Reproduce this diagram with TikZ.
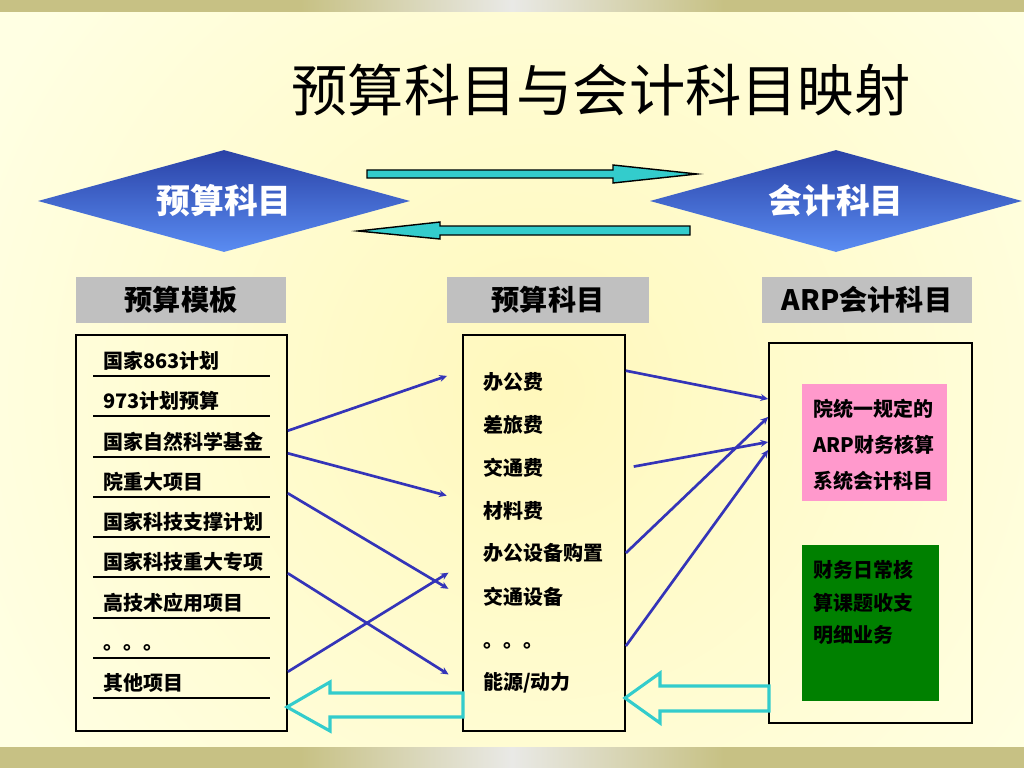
\documentclass[tikz,border=0pt]{standalone}
\usepackage{fontspec}
\setmainfont{Noto Sans CJK SC}
\usetikzlibrary{positioning, arrows.meta, shapes.geometric, fit, calc}
\definecolor{bgpale}{HTML}{FFFFE3}
\definecolor{bgglow}{HTML}{FFF8BC}
\definecolor{barolive}{HTML}{C7C184}
\definecolor{barlight}{HTML}{E9E9E6}
\definecolor{diamtop}{HTML}{2A42A6}
\definecolor{diambot}{HTML}{5A8CF2}
\definecolor{linkblue}{HTML}{3434B8}
\definecolor{flowcyan}{HTML}{33CCCC}
\definecolor{headgray}{HTML}{C0C0C0}
\definecolor{acctpink}{HTML}{FF99CC}
\definecolor{acctgreen}{HTML}{008000}

\begin{document}
\begin{tikzpicture}[
      x=0.025cm, y=-0.025cm,
      every node/.style={inner sep=0pt},
      subj/.style={diamond, aspect=3.65, minimum width=9.3cm, minimum height=2.55cm,
        top color=diamtop, bottom color=diambot, text=white,
        font=\fontsize{24}{24}\selectfont\bfseries},
      headbox/.style={fill=headgray, minimum height=1.125cm,
        font=\fontsize{20}{20}\selectfont\bfseries},
      frame/.style={draw, line width=1.2pt},
      item/.style={anchor=west, minimum height=0.55cm,
        font=\fontsize{14.2}{14.2}\selectfont\bfseries},
      link/.style={draw=linkblue, line width=1.9pt, -{Stealth[length=5.5pt, width=5pt]}},
      flow/.style={draw=black, line width=1pt, fill=flowcyan},
      hollow/.style={draw=flowcyan, line width=2.2pt, line join=miter},
    ]
    \useasboundingbox (0,0) rectangle (1024,768);

    % background and bars
    \fill[bgpale] (0,0) rectangle (1024,768);
    \begin{scope}
      \clip (0,12) rectangle (1024,747);
      \shade[inner color=bgglow, outer color=bgpale] (540,390) circle (620);
    \end{scope}
    \fill[barolive] (0,0) rectangle (1024,12);
    \shade[left color=barolive, right color=barlight] (300,0) rectangle (512,12);
    \shade[left color=barlight, right color=barolive] (512,0) rectangle (724,12);
    \fill[barolive] (0,747) rectangle (1024,768);
    \shade[left color=barolive, right color=barlight] (300,747) rectangle (512,768);
    \shade[left color=barlight, right color=barolive] (512,747) rectangle (724,768);

    \node[font=\fontsize{40}{40}\selectfont] (title) at (601,90) {预算科目与会计科目映射};

    \node[subj] (bsubj) at (224,201) {预算科目};
    \node[subj] (asubj) at (836,201) {会计科目};

    \draw[flow] (367,170) -- (613,170) -- (613,165) -- (697,174) -- (613,183)
      -- (613,178) -- (367,178) -- cycle;
    \draw[flow] (690,226) -- (440,226) -- (440,222) -- (358,231) -- (440,239)
      -- (440,235) -- (690,235) -- cycle;

    \node[headbox, minimum width=5.25cm] (hl) at (181,300) {预算模板};
    \node[headbox, minimum width=5.05cm] (hm) at (548,300) {预算科目};
    \node[headbox, minimum width=5.25cm] (hr) at (867,300) {ARP会计科目};

    \node[frame, fit={(76,335) (287,731)}] (lbox) {};
    \node[frame, fit={(463,335) (625,731)}] (mbox) {};
    \node[frame, fit={(769,343) (972,723)}] (rbox) {};

    % budget templates
    \node[item] (l1) at (103,361) {国家863计划};
    \node[item] (l2) at (103,401) {973计划预算};
    \node[item] (l3) at (103,442) {国家自然科学基金};
    \node[item] (l4) at (103,482) {院重大项目};
    \node[item] (l5) at (103,522) {国家科技支撑计划};
    \node[item] (l6) at (103,562) {国家科技重大专项};
    \node[item] (l7) at (103,603) {高技术应用项目};
    \node[item] (l8) at (103,648) {。。。};
    \node[item] (l9) at (103,683) {其他项目};
    \foreach \y in {376,416,457,497,537,577,618,658,698}
      \draw[line width=1.3pt] (93,\y) -- (270,\y);

    % budget subjects
    \node[item] (m1) at (483,382) {办公费};
    \node[item] (m2) at (483,425) {差旅费};
    \node[item] (m3) at (483,468) {交通费};
    \node[item] (m4) at (483,511) {材料费};
    \node[item] (m5) at (483,553) {办公设备购置};
    \node[item] (m6) at (483,597) {交通设备};
    \node[item] (m7) at (483,646) {。。。};
    \node[item] (m8) at (483,683) {能源/动力};

    % ARP subjects
    \node[fill=acctpink, fit={(802,384) (947,501)}] (pink) {};
    \node[item] (p1) at (813,409) {院统一规定的};
    \node[item] (p2) at (813,445) {ARP财务核算};
    \node[item] (p3) at (813,481) {系统会计科目};
    \node[fill=acctgreen, fit={(802,545) (939,701)}] (green) {};
    \node[item] (g1) at (813,570) {财务日常核};
    \node[item] (g2) at (813,603) {算课题收支};
    \node[item] (g3) at (813,635) {明细业务};

    \coordinate (r1) at (rbox.west |- 0,399);
    \coordinate (r2) at (rbox.west |- 0,417);
    \coordinate (r3) at (rbox.west |- 0,442);
    \coordinate (r4) at (rbox.west |- 0,450);

    \draw[link, shorten >=0.4cm] (lbox.east |- l3.north) -- (mbox.west |- m1.north);
    \draw[link, shorten >=0.4cm] (lbox.east |- l3.south) -- (mbox.west |- m4.north);
    \draw[link, shorten >=0.4cm] (lbox.east |- l4.south) -- (mbox.west |- m6);
    \draw[link, shorten >=0.4cm] (lbox.east |- l6.south) -- (mbox.west |- m8);
    \draw[link, shorten >=0.4cm] (lbox.east |- l9.north) -- (mbox.west |- m5.south);

    \draw[link] (mbox.east |- m1.north) -- (r1);
    \draw[link, shorten <=0.2cm] (mbox.east |- m3) -- (r3);
    \draw[link] (mbox.east |- m5) -- (r2);
    \draw[link] (mbox.east |- m7) -- (r4);

    \draw[hollow] (463,693) -- (330,693) -- (330,682) -- (287,707) -- (330,731)
      -- (330,717) -- (463,717) -- cycle;
    \draw[hollow] (769,686) -- (660,686) -- (660,673) -- (625,698) -- (660,723)
      -- (660,711) -- (769,711) -- cycle;
  \end{tikzpicture}
\end{document}
